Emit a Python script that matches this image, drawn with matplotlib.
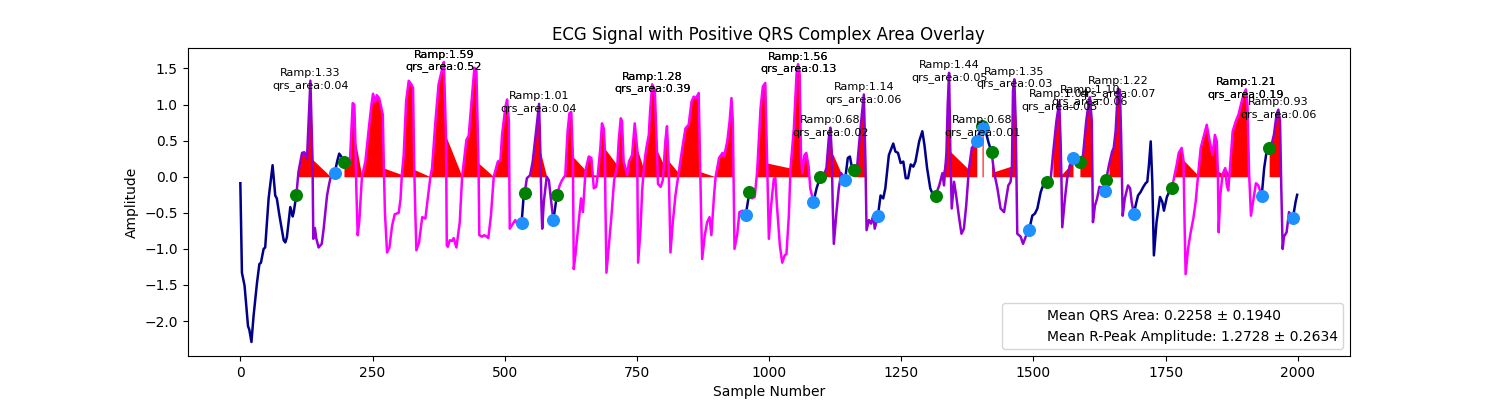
import numpy as np
import matplotlib
matplotlib.use('Agg')
import matplotlib.pyplot as plt

# ECG trace: (sample number, amplitude)
ecg_points = [
    (0, -0.09), (3, -1.33), (8, -1.51), (14.5, -2.07), (17, -2.12), (21, -2.29), (25, -1.93),
    (31.5, -1.47), (36, -1.21), (39, -1.19), (44, -1.00), (47, -0.98), (53.5, -0.30), (61, 0.16),
    (66, -0.26), (69, -0.30), (74, -0.54), (82, -0.88), (85, -0.91), (88, -0.84), (94.5, -0.42),
    (99, -0.55), (101, -0.49), (106, -0.25),
    (110, 0.07), (116.7, 0.33), (121, 0.34), (124, 0.29), (126, 0.24), (132.5, 1.33), (136.5, 0.24),
    (138, -0.86), (141, -0.71), (143.5, -0.85), (148, -0.98), (154, -0.93), (157.6, -0.72),
    (164, -0.26), (168, -0.10), (171, 0.0), (174, 0.02), (178.5, 0.05),
    (183, 0.21), (187, 0.32), (191, 0.28), (196, 0.20),
    (198, 0.17), (204, 0.14), (207, 0.17), (212.5, 1.02), (215.6, 1.00), (217.5, 0.50), (219.5, -0.20),
    (222, -0.81), (225, -0.62), (230, 0.0), (236.5, 0.21), (243, 0.67), (248, 1.00), (251, 1.15),
    (255, 1.04), (258, 1.13), (262.5, 1.09), (266.8, 0.95), (269.5, 0.86), (271.5, 0.12),
    (273.5, -0.50), (277.5, -1.05), (282, -0.98), (287, -0.68), (292, -0.52), (299.5, -0.50),
    (303, -0.31), (305.5, 0.03), (309, 0.30), (313.5, 1.04), (318.5, 1.33), (323.5, 1.28),
    (326.7, 1.23), (329, 0.10), (331, -0.50), (333, -1.02), (338, -0.91), (344, -0.56), (350, -0.58),
    (356, -0.21), (359.5, 0.0), (362.6, 0.12), (369, 0.77), (375, 1.28), (381.6, 1.49), (385, 1.59),
    (389, 0.56), (390.5, -0.95), (392.5, -0.97), (396, -0.88), (400.5, -0.89), (403.5, -0.85),
    (408.7, -0.98), (415, -0.63), (419.5, 0.0), (427.6, 0.51), (432, 0.57), (438.4, 1.14),
    (442.8, 1.51), (446.5, 1.47), (450.5, 0.19), (452, -0.81), (457, -0.83), (461.4, -0.81),
    (466, -0.83), (469, -0.85), (474, -0.54), (479.3, 0.0), (487, 0.21), (492, 0.23), (495, 0.58),
    (501.4, 0.97), (504.6, 1.07), (508, 0.77), (509.6, -0.72), (514, -0.67), (520, -0.60),
    (524.7, -0.67), (532, -0.64),
    (536, -0.26), (538, -0.22),
    (542, -0.02), (548, 0.02), (553, 0.21), (560, 0.67), (565, 1.01), (567.5, 0.35), (569.5, -0.40),
    (571, -0.72), (574, -0.35), (579.5, 0.0), (583.6, -0.05), (586.7, -0.26), (592, -0.60),
    (599, -0.25),
    (604, -0.12), (608.3, -0.05), (614.6, 0.02), (619, 0.63), (622.5, 0.88), (626, 0.90), (629, 0.28),
    (630.7, -1.28), (633.7, -1.09), (640, -0.63), (644.4, -0.30), (648, -0.49), (653, 0.09),
    (659, 0.28), (664, 0.26), (666.6, 0.03), (668.6, -0.16), (673, -0.14), (676, 0.02), (681, 0.40),
    (684, 0.74), (687.5, 0.67), (689.4, 0.39), (690.6, -0.40), (692.5, -1.33), (697, -0.96),
    (702, -0.54), (707, -0.05), (713, 0.16), (716, 0.53), (719.6, 0.81), (722, 0.77), (725, 0.21),
    (728.6, 0.12), (731.7, 0.02), (735, 0.21), (741, 0.30), (746, 0.74), (750.6, 0.39),
    (752.4, -1.19), (757, -0.72), (760, -0.20), (763, 0.10), (766, 0.30), (769, 0.44), (772.6, 0.58),
    (775, 0.90), (779, 1.28), (784, 1.20), (788, 0.37), (790, -0.10), (795, -0.14), (799, -0.05),
    (801, 0.16), (804, 0.50), (807, 0.70), (810, 0.22), (813.6, -1.05), (818, -0.63), (823, -0.26),
    (829, 0.05), (834, 0.30), (838.8, 0.53), (842, 0.67), (848, 0.72), (853.4, 1.04), (857.6, 1.11),
    (862, 1.09), (867, 1.16), (870, 0.07), (871.5, -0.50), (873.6, -1.14), (878.5, -0.81),
    (883, -0.63), (887.5, -0.56), (891, -0.81), (896, -0.26), (899, 0.0), (905.5, 0.26), (912, 0.33),
    (915, 0.28), (921, 0.49), (925.5, 0.77), (929, 1.09), (931.6, 0.77), (934.7, -1.00),
    (939.7, -0.81), (944, -0.49), (950, -0.47), (956, -0.53),
    (963, -0.21),
    (968, -0.30), (973, -0.28), (977.5, 0.07), (984, 0.95), (988.3, 1.25), (993, 1.30), (996.5, 0.19),
    (999.7, -0.86), (1004, -0.40), (1009, -0.03), (1012, -0.02), (1015, -0.40), (1020.5, -0.95),
    (1025, -1.19), (1029.6, -1.09), (1033, -1.07), (1037.5, -0.54), (1040.7, 0.12), (1047, 0.67),
    (1052, 1.42), (1055, 1.56), (1058, 1.42), (1060.5, 0.30), (1063, 0.05), (1067, 0.30),
    (1070.5, 0.33), (1075, 0.14), (1078, -0.16), (1084, -0.35),
    (1090, -0.16), (1097, 0.0),
    (1103.6, 0.02), (1108.6, 0.12), (1113, 0.53), (1116, 0.68), (1118.6, 0.35), (1120.5, -0.40),
    (1122.6, -0.93), (1127.6, -0.49), (1132, -0.16), (1136.5, 0.05), (1144, -0.04),
    (1149, 0.26), (1153, 0.28), (1157, 0.12), (1160.5, 0.09),
    (1167, 0.17), (1173, 0.67), (1179.4, 1.14), (1182.5, 0.17), (1184.5, -0.74), (1189, -0.60),
    (1193, -0.65), (1197, -0.54), (1200, -0.72), (1206, -0.54),
    (1211, -0.26), (1216, -0.30), (1220, -0.16), (1226.7, 0.30), (1235, 0.46), (1239, 0.35),
    (1244, 0.33), (1249, 0.19), (1254, 0.21), (1258.6, -0.02), (1263, -0.02), (1268, 0.17),
    (1273, 0.14), (1277, 0.21), (1284, 0.49), (1290, 0.63), (1294, 0.44), (1299, 0.12),
    (1305, -0.16), (1310.6, -0.26), (1315, -0.26),
    (1322, -0.12), (1328, 0.05), (1331, -0.12), (1335.6, 0.33), (1338, 1.00), (1340.6, 1.44),
    (1342, 0.80), (1343, 0.35), (1345.6, -0.44), (1350, -0.07), (1354, -0.26), (1359, -0.54),
    (1364, -0.79), (1368.6, -0.72), (1373, -0.40), (1378, 0.10), (1383.6, 0.40), (1393, 0.49),
    (1398, 0.62), (1403, 0.70),
    (1405, 0.67),
    (1410, 0.62), (1415, 0.48), (1421, 0.34),
    (1425.6, 0.07), (1432, -0.16), (1438, -0.44), (1444.6, -0.49), (1447.6, -0.35), (1452.7, -0.12),
    (1457, -0.07), (1459.5, 0.15), (1461.5, 1.19), (1464, 1.35), (1466.6, 0.77), (1469.6, -0.79),
    (1476, -0.83), (1480.5, -0.93), (1485.6, -0.83), (1492, -0.74),
    (1498, -0.54), (1503, -0.51), (1507.6, -0.44), (1514, -0.21), (1520, -0.09), (1526.4, -0.07),
    (1533, -0.02), (1537, 0.30), (1543.6, 0.77), (1549, 1.04), (1551.5, 0.50), (1553, 0.03),
    (1554.7, -0.70), (1559.8, -0.30), (1564, -0.02), (1568.6, 0.15), (1575, 0.26),
    (1580, 0.23), (1588, 0.20),
    (1594, 0.30), (1600, 0.77), (1605, 1.04), (1607, 1.10), (1610.6, 0.77), (1612.7, -0.63),
    (1616.5, -0.40), (1620.6, -0.30), (1625, -0.14), (1630, -0.15), (1635.5, -0.20),
    (1637.5, -0.05),
    (1643, 0.16), (1649, 0.35), (1652, 0.40), (1655.6, 0.63), (1660, 1.22), (1663.7, 1.20),
    (1666, 0.58), (1669, -0.54), (1673, -0.30), (1679, -0.12), (1683, -0.16), (1686, -0.35),
    (1690, -0.51),
    (1695, -0.35), (1698, -0.26), (1703, -0.21), (1708, -0.14), (1712.4, -0.09), (1715.5, -0.07),
    (1718.6, 0.16), (1722, 0.49), (1725, -0.07), (1728, -1.09), (1733, -0.63), (1739.6, -0.28),
    (1744, -0.35), (1747, -0.47), (1752.6, -0.28), (1757, -0.21), (1762, -0.16),
    (1767, 0.02), (1771, 0.16), (1775, 0.33), (1780.5, 0.40), (1784, 0.23), (1786, -0.63),
    (1788, -1.35), (1792.6, -1.00), (1797.6, -0.77), (1802.6, -0.58), (1807, -0.35), (1811.6, 0.02),
    (1816.6, 0.40), (1823, 0.58), (1828, 0.72), (1832.6, 0.53), (1839, 0.30), (1843.4, 0.58),
    (1847, 0.49), (1849, 0.08), (1850.5, -0.77), (1853.6, -0.26), (1858, 0.04), (1863, 0.12),
    (1866, -0.12), (1868.6, -0.19), (1871, 0.03), (1877, 0.63), (1883, 0.77), (1888, 0.86),
    (1892.6, 1.00), (1897.6, 1.14), (1902, 1.21), (1905, 1.00), (1908, 0.07), (1911.6, -0.54),
    (1916.6, -0.30), (1921, -0.09), (1925.5, -0.12), (1932, -0.26),
    (1936.6, 0.12), (1941.6, 0.37), (1946, 0.40),
    (1952, 0.49), (1955, 0.58), (1960, 0.86), (1963.4, 0.93), (1966.6, 0.77), (1969, -0.16),
    (1971.6, -1.00), (1974, -0.83), (1979, -0.77), (1983.6, -0.49), (1986.7, -0.54), (1991, -0.57),
    (1996, -0.35), (1999, -0.25),
]

# QRS onset / offset sample numbers
qrs_onsets = [106, 196, 538, 599, 963, 1097, 1160.5, 1315, 1403, 1421, 1526.4, 1588, 1637.5, 1762, 1946]
qrs_offsets = [178.5, 532, 592, 956, 1084, 1144, 1206, 1393, 1405, 1492, 1575, 1635.5, 1690, 1932, 1991]
beat_colors = ['darkviolet', 'magenta', 'darkviolet', 'magenta', 'magenta', 'darkviolet',
               'darkviolet', 'darkviolet', 'darkviolet', 'darkviolet', 'darkviolet',
               'darkviolet', 'darkviolet', 'magenta', 'darkviolet']

# per-beat labels
r_amps = [1.33, 1.59, 1.01, 1.28, 1.56, 0.68, 1.14, 1.44, 0.68, 1.35, 1.04, 1.10, 1.22, 1.21, 0.93]
qrs_areas = [0.04, 0.52, 0.04, 0.39, 0.13, 0.02, 0.06, 0.05, 0.01, 0.03, 0.05, 0.06, 0.07, 0.19, 0.06]

# summary stats shown in the legend
mean_area, std_area = 0.2258, 0.1940
mean_ramp, std_ramp = 1.2728, 0.2634

x = np.array([p[0] for p in ecg_points])
y = np.array([p[1] for p in ecg_points])

fig, ax = plt.subplots(figsize=(15, 4))

# positive area of each QRS complex
for on, off in zip(qrs_onsets, qrs_offsets):
    m = (x >= on) & (x <= off) & (y >= 0)
    ax.fill_between(x[m], 0, y[m], color='red', linewidth=0, zorder=1)

# signal, coloured by segment
def draw_piece(a, b, c):
    m = (x >= a) & (x <= b)
    ax.plot(x[m], y[m], color=c, linewidth=1.8, zorder=2)

draw_piece(x[0], qrs_onsets[0], 'darkblue')
for i, (on, off) in enumerate(zip(qrs_onsets, qrs_offsets)):
    draw_piece(on, off, beat_colors[i])
    nxt = qrs_onsets[i + 1] if i + 1 < len(qrs_onsets) else x[-1]
    draw_piece(off, nxt, 'darkblue')

# onset / offset markers
ax.scatter(qrs_onsets, np.interp(qrs_onsets, x, y), color='green', s=70, zorder=3)
ax.scatter(qrs_offsets, np.interp(qrs_offsets, x, y), color='#1E90FF', s=70, zorder=3)

# R-peak annotations
for i, (on, off) in enumerate(zip(qrs_onsets, qrs_offsets)):
    m = (x >= on) & (x <= off)
    k = np.argmax(np.where(m, y, -np.inf))
    label = f'Ramp:{r_amps[i]:.2f}\nqrs_area:{qrs_areas[i]:.2f}'
    reps = 2 if beat_colors[i] == 'magenta' else 1
    for _ in range(reps):
        ax.text(x[k], r_amps[i] - 0.14, label, ha='center', va='bottom', fontsize=8, zorder=4)

ax.plot([], [], ' ', label=f'Mean QRS Area: {mean_area:.4f} ± {std_area:.4f}')
ax.plot([], [], ' ', label=f'Mean R-Peak Amplitude: {mean_ramp:.4f} ± {std_ramp:.4f}')
ax.legend(loc='lower right')

ax.set_title('ECG Signal with Positive QRS Complex Area Overlay')
ax.set_xlabel('Sample Number')
ax.set_ylabel('Amplitude')

fig.savefig('out.png', dpi=100)
